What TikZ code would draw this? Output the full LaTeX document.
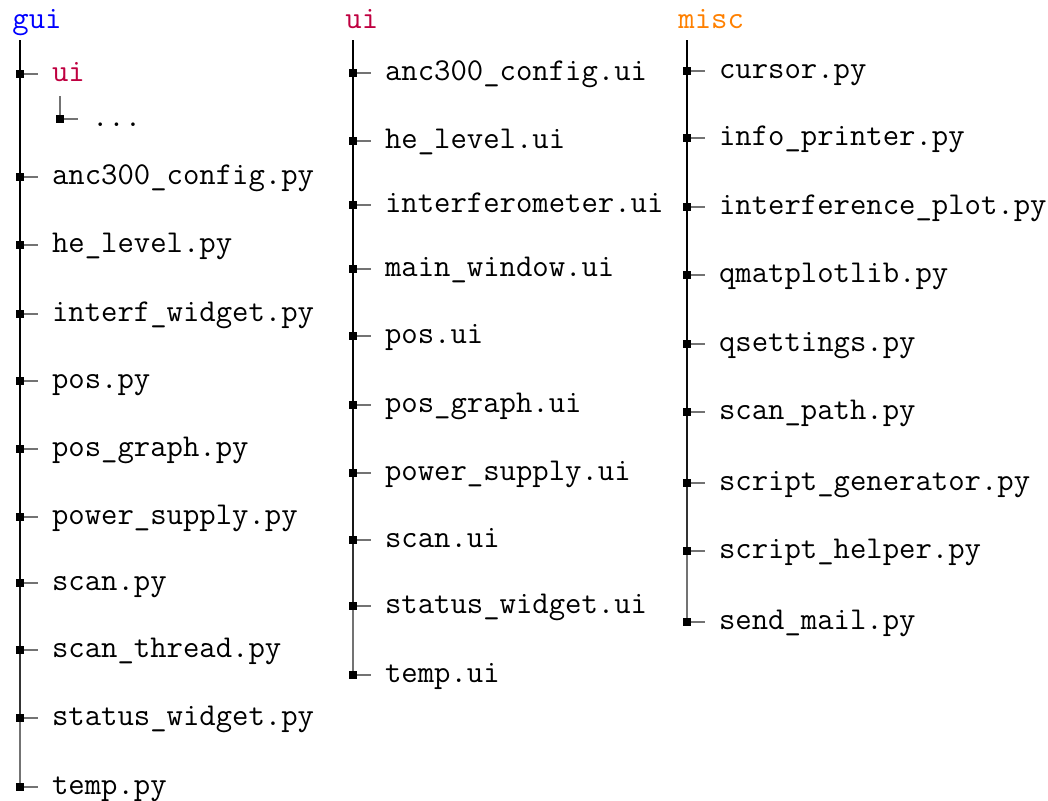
\documentclass[tikz,border=0pt]{standalone}
\usepackage{xcolor}
\definecolor{dirgui}{RGB}{0,0,255}
\definecolor{dirui}{RGB}{191,0,64}
\definecolor{dirmisc}{RGB}{255,128,0}
\tikzset{
  ttfont/.style={font=\ttfamily\fontsize{15.9}{18}\selectfont},
  entry/.style={ttfont, anchor=west, inner xsep=0pt, inner ysep=0pt,
    outer xsep=7pt, outer ysep=0pt, text height=10pt, text depth=3pt},
  head/.style={ttfont, anchor=base west, inner sep=0pt},
  branch/.style={draw=black, draw opacity=0.55, line width=0.75pt},
  knot/.style={fill=black, inner sep=0pt, minimum size=4pt, draw=none},
}
\begin{document}
\begin{tikzpicture}[x=0.5pt, y=-0.5pt]
\useasboundingbox (0,0) rectangle (1048,800);

% ---- gui column ----
\node[head, text=dirgui] (gui) at (12,28) {gui};
\coordinate (guitop) at (20,40);
\foreach \n/\y/\t in {
  g1/74/{\textcolor{dirui}{ui}},
  g2/177/{anc300\_config.py},
  g3/245/{he\_level.py},
  g4/314/{interf\_widget.py},
  g5/381/{pos.py},
  g6/449/{pos\_graph.py},
  g7/517/{power\_supply.py},
  g8/583/{scan.py},
  g9/650/{scan\_thread.py},
  g10/718/{status\_widget.py},
  g11/787/{temp.py}} {
  \node[entry] (\n) at (38,\y) {\t};
  \draw[branch] (guitop) |- (\n.west);
  \node[knot] at (guitop |- \n.west) {};
}
% sub-folder of gui/ui
\coordinate (subtop) at (60,96);
\node[entry] (g1a) at (78,119) {...};
\draw[branch] (subtop) |- (g1a.west);
\node[knot] at (subtop |- g1a.west) {};

% ---- ui column ----
\node[head, text=dirui] (ui) at (345,28) {ui};
\coordinate (uitop) at (353,40);
\foreach \n/\y/\t in {
  u1/73/{anc300\_config.ui},
  u2/141/{he\_level.ui},
  u3/205/{interferometer.ui},
  u4/269/{main\_window.ui},
  u5/336/{pos.ui},
  u6/405/{pos\_graph.ui},
  u7/473/{power\_supply.ui},
  u8/540/{scan.ui},
  u9/606/{status\_widget.ui},
  u10/675/{temp.ui}} {
  \node[entry] (\n) at (371,\y) {\t};
  \draw[branch] (uitop) |- (\n.west);
  \node[knot] at (uitop |- \n.west) {};
}

% ---- misc column ----
\node[head, text=dirmisc] (misc) at (678,28) {misc};
\coordinate (misctop) at (687,40);
\foreach \n/\y/\t in {
  m1/71/{cursor.py},
  m2/138/{info\_printer.py},
  m3/207/{interference\_plot.py},
  m4/275/{qmatplotlib.py},
  m5/344/{qsettings.py},
  m6/412/{scan\_path.py},
  m7/483/{script\_generator.py},
  m8/551/{script\_helper.py},
  m9/622/{send\_mail.py}} {
  \node[entry] (\n) at (705,\y) {\t};
  \draw[branch] (misctop) |- (\n.west);
  \node[knot] at (misctop |- \n.west) {};
}
\end{tikzpicture}
\end{document}
